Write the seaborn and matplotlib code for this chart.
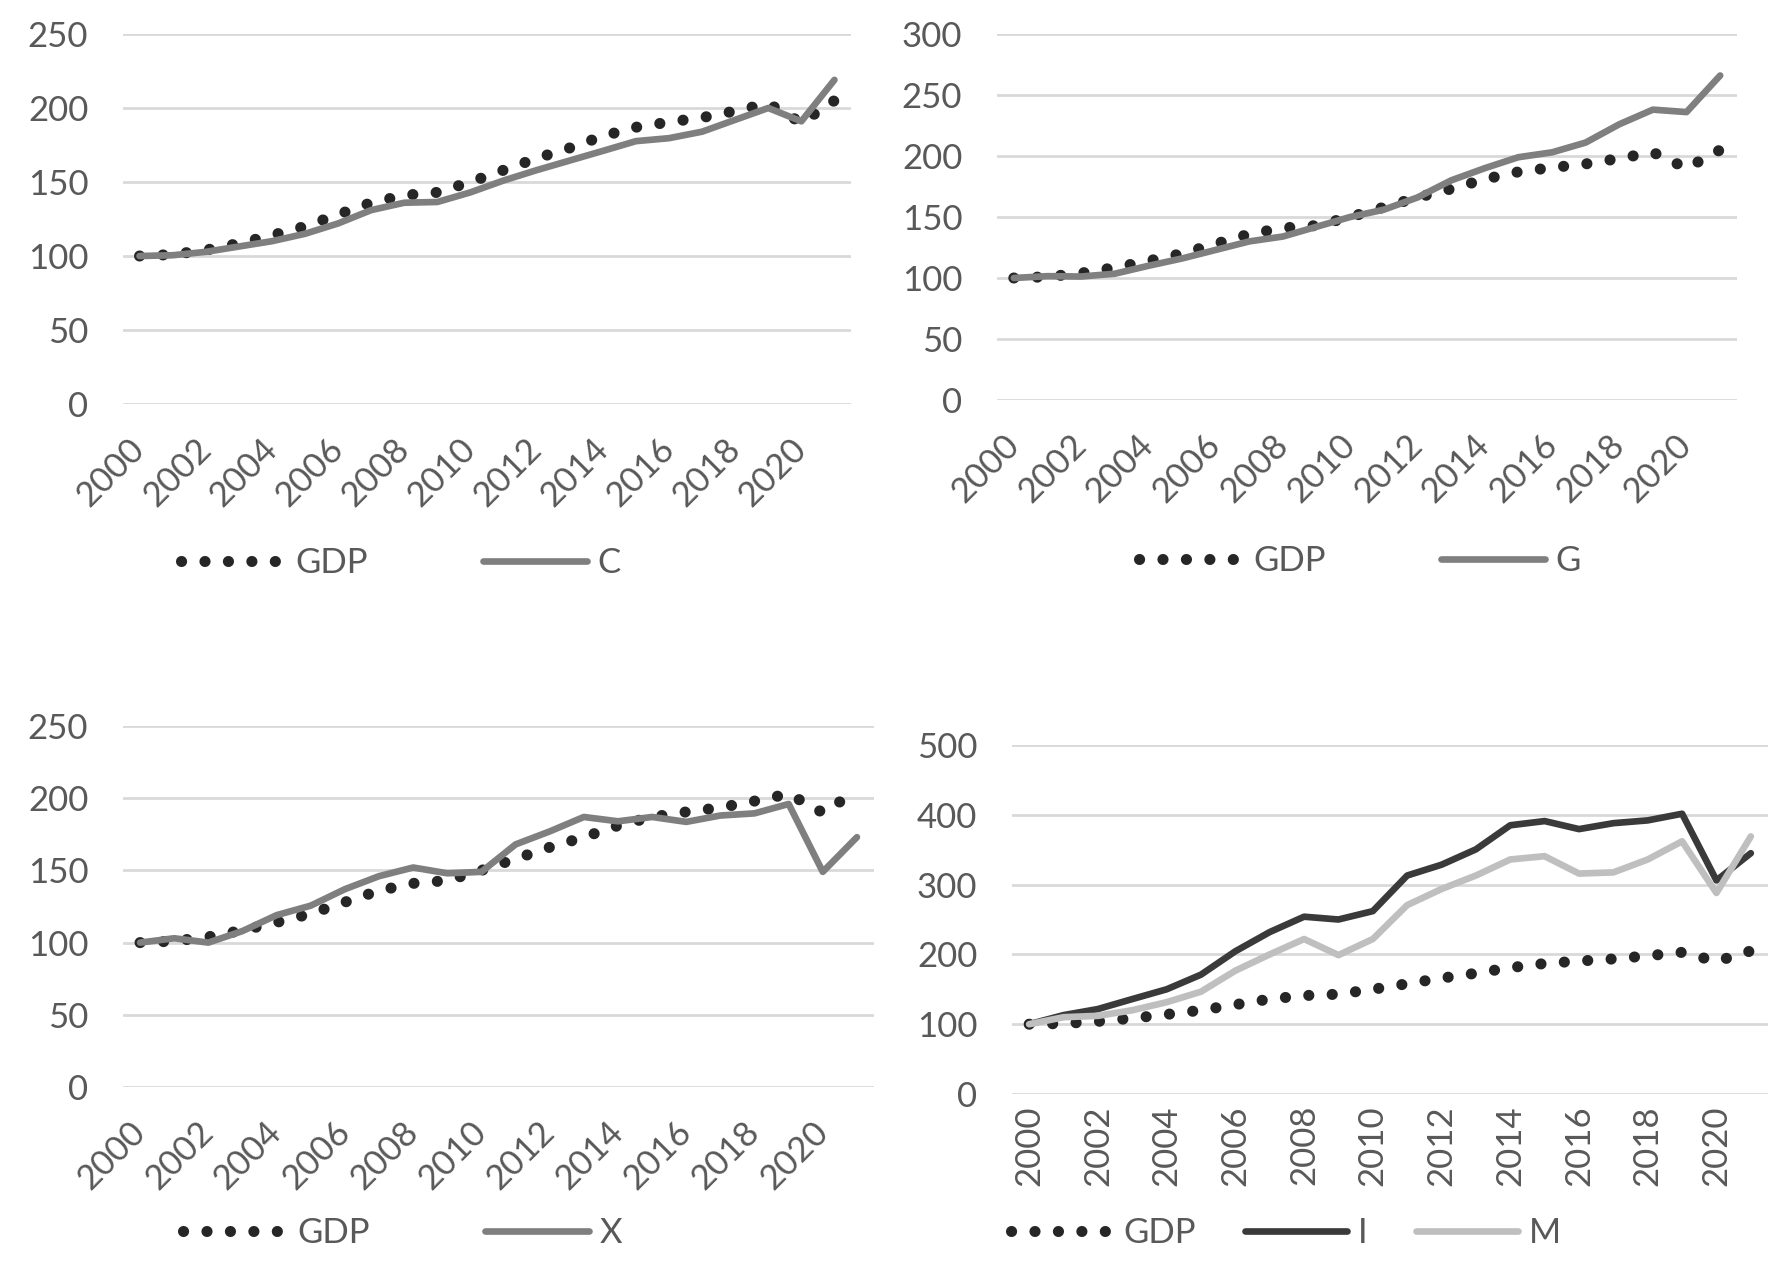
import matplotlib
matplotlib.use("Agg")
import matplotlib.pyplot as plt
import seaborn as sns

# -------------------- Data --------------------
years = list(range(2000, 2022))
gdp = [100, 101, 104, 108.5, 114, 120, 128, 136, 141, 143, 150, 158,
       166, 173, 181, 187, 190.5, 193.5, 198, 203, 190, 205]
cons = [100, 100.5, 102.8, 106.4, 110, 115, 122, 131, 136, 136.5, 143, 151,
        158, 164.5, 171, 177.6, 179.6, 184, 192, 200, 191, 219]
gov = [100, 101.5, 101.2, 103.5, 110, 116, 123, 130, 134, 142, 150, 156,
       166, 180, 190, 199, 203, 211, 226, 238, 236, 266]
exports = [100, 103, 100, 108, 119, 125.6, 137, 146, 152, 148, 149, 168,
           177, 187, 184, 187, 183.6, 188, 189.5, 196, 149, 173]
invest = [100, 113, 121.7, 136, 150, 171, 204.5, 232, 254, 250, 262, 313,
          328.5, 350.5, 385, 391, 379.5, 388, 392, 401.5, 306, 345]
imports = [100, 110, 112, 120, 131.5, 146.6, 176.7, 200, 222, 199, 222, 270.6,
           293.7, 313, 336, 340.7, 315.8, 317.5, 336, 362, 288, 369]
tick_years = list(range(2000, 2021, 2))

W, H = 1782, 1264
TXT = "#595959"
FS = 25
LW = 4.8
DOT = dict(color="#262626", linewidth=8, linestyle=(0, (0.01, 2.1)),
           dash_capstyle="round")

sns.set_theme(style="white")
plt.rcParams["font.family"] = ["Lato", "DejaVu Sans"]

fig = plt.figure(figsize=(W / 100, H / 100), dpi=100)


def px_axes(x0, x1, ytop, ybot):
    return fig.add_axes([x0 / W, 1 - ybot / H, (x1 - x0) / W, (ybot - ytop) / H])


def style_axes(ax, ymax, step, rot):
    ax.set_xlim(1999.5, 2021.5)
    ax.set_ylim(0, ymax)
    ax.set_yticks(range(0, ymax + 1, step))
    ax.set_xticks(tick_years)
    ax.set_xticklabels([str(y) for y in tick_years])
    ax.grid(axis="y", color="#d9d9d9", linewidth=2)
    ax.grid(axis="x", visible=False)
    ax.set_axisbelow(True)
    for s in ax.spines.values():
        s.set_visible(False)
    ax.tick_params(axis="y", length=0, pad=25, labelsize=FS, labelcolor=TXT)
    ax.set_xlabel("")
    ax.set_ylabel("")
    if rot == 45:
        ax.tick_params(axis="x", length=0, pad=29, labelsize=FS, labelcolor=TXT)
        for lb in ax.get_xticklabels():
            lb.set_rotation(45)
            lb.set_ha("right")
            lb.set_va("center")
            lb.set_rotation_mode("anchor")
    else:
        ax.tick_params(axis="x", length=0, pad=8, labelsize=FS, labelcolor=TXT,
                       labelrotation=90)


def add_legend(ax, x, y, spacing, hlen=3.0):
    leg = ax.legend(loc="center left", bbox_to_anchor=(x / W, 1 - y / H),
                    bbox_transform=fig.transFigure, ncol=3, frameon=False,
                    fontsize=FS, handlelength=hlen, handletextpad=0.3,
                    columnspacing=spacing, borderpad=0, borderaxespad=0)
    for t in leg.get_texts():
        t.set_color(TXT)


# Panel C
ax1 = px_axes(123, 851, 34, 404)
sns.lineplot(x=years, y=gdp, ax=ax1, label="GDP", **DOT)
sns.lineplot(x=years, y=cons, ax=ax1, label="C", color="#7f7f7f", linewidth=LW)
style_axes(ax1, 250, 50, 45)
add_legend(ax1, 181, 563, 3.3)

# Panel G
ax2 = px_axes(997, 1737, 34, 400)
sns.lineplot(x=years, y=gdp, ax=ax2, label="GDP", **DOT)
sns.lineplot(x=years, y=gov, ax=ax2, label="G", color="#7f7f7f", linewidth=LW)
style_axes(ax2, 300, 50, 45)
add_legend(ax2, 1139, 561, 3.3)

# Panel X
ax3 = px_axes(123, 874, 726, 1087)
sns.lineplot(x=years, y=gdp, ax=ax3, label="GDP", **DOT)
sns.lineplot(x=years, y=exports, ax=ax3, label="X", color="#7f7f7f", linewidth=LW)
style_axes(ax3, 250, 50, 45)
add_legend(ax3, 183, 1233, 3.3)

# Panel I / M
ax4 = px_axes(1012, 1768, 745, 1094)
sns.lineplot(x=years, y=gdp, ax=ax4, label="GDP", **DOT)
sns.lineplot(x=years, y=invest, ax=ax4, label="I", color="#3a3a3a", linewidth=LW)
sns.lineplot(x=years, y=imports, ax=ax4, label="M", color="#bfbfbf", linewidth=LW)
style_axes(ax4, 500, 100, 90)
add_legend(ax4, 1011, 1233, 1.4, hlen=2.95)

fig.savefig("out.png", dpi=100)
